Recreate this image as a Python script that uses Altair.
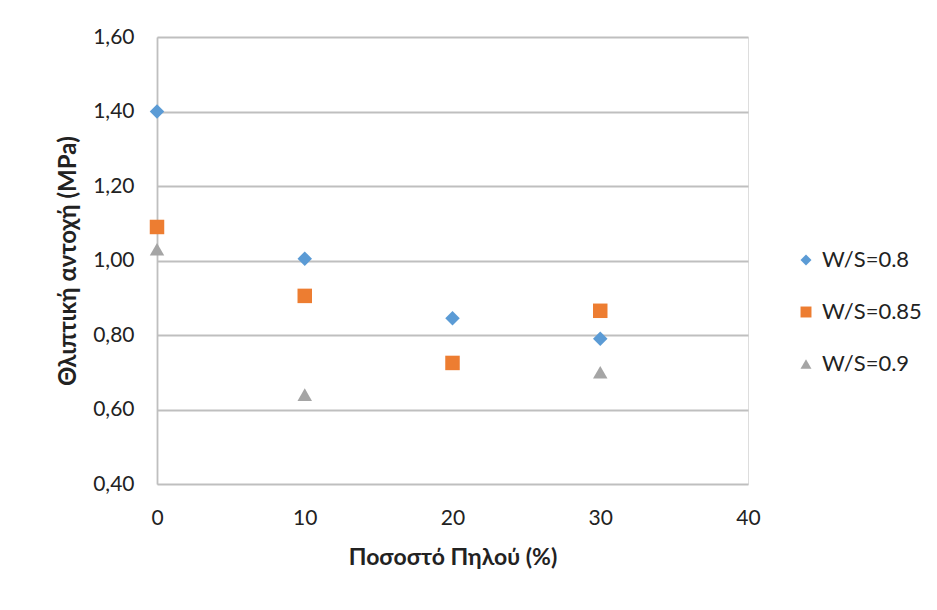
import altair as alt
import pandas as pd

clay = [0, 10, 20, 30]
ws08 = [1.40, 1.005, 0.845, 0.79]
ws085 = [1.09, 0.905, 0.725, 0.865]
ws09_x = [0, 10, 30]
ws09 = [1.03, 0.64, 0.70]
series = ["W/S=0.8", "W/S=0.85", "W/S=0.9"]

rows = []
for x, v in zip(clay, ws08):
    rows.append({"x": x, "y": v, "s": series[0]})
for x, v in zip(clay, ws085):
    rows.append({"x": x, "y": v, "s": series[1]})
for x, v in zip(ws09_x, ws09):
    rows.append({"x": x, "y": v, "s": series[2]})
df = pd.DataFrame(rows)

FONT = "Lato"

chart = alt.Chart(df).mark_point(filled=True, opacity=1, size=210).encode(
    x=alt.X("x:Q", scale=alt.Scale(domain=[0, 40], nice=False),
            axis=alt.Axis(title="Ποσοστό Πηλού (%)", values=[0, 10, 20, 30, 40],
                          grid=False, domain=False, ticks=False, labelPadding=23,
                          labelFlush=False,
                          titlePadding=18, labelFontSize=21, titleFontSize=23,
                          labelColor="#222", titleColor="#222")),
    y=alt.Y("y:Q", scale=alt.Scale(domain=[0.4, 1.6], nice=False),
            axis=alt.Axis(title="Θλιπτική αντοχή (MPa)", values=[0.4, 0.6, 0.8, 1.0, 1.2, 1.4, 1.6],
                          labelExpr="replace(format(datum.value, '.2f'), '.', ',')",
                          grid=True, gridColor="#bfbfbf", gridWidth=1.8,
                          domain=True, domainColor="#bfbfbf", domainWidth=1.8,
                          ticks=False, labelPadding=23, titlePadding=12,
                          labelFontSize=21, titleFontSize=24, labelFlush=False,
                          labelColor="#222", titleColor="#222")),
    color=alt.Color("s:N", scale=alt.Scale(domain=series, range=["#5B9BD5", "#ED7D31", "#A5A5A5"]),
                    legend=alt.Legend(title=None, orient="none", legendX=638, legendY=212,
                                      labelFontSize=22, labelColor="#222", rowPadding=30,
                                      symbolSize=120, labelOffset=5)),
    shape=alt.Shape("s:N", scale=alt.Scale(domain=series, range=["diamond", "square", "triangle-up"]),
                    legend=None),
).properties(
    width=591, height=447,
    autosize=alt.AutoSizeParams(type="none"),
    padding={"left": 157, "top": 37, "right": 189, "bottom": 126},
).configure_view(stroke=None).configure(font=FONT).configure_axis(
    labelFont=FONT, titleFont=FONT, titleFontWeight="bold"
).configure_legend(labelFont=FONT)

chart.save("out.html", embed_options={"renderer": "svg", "actions": False})
